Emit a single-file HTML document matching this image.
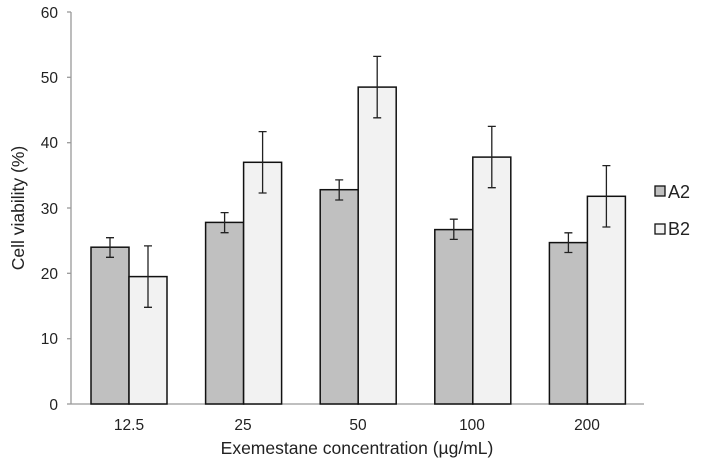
<!DOCTYPE html><html><head><style>body{margin:0;background:#fff}svg{display:block}text{font-family:"Liberation Sans",sans-serif;fill:#222}</style></head><body>
<svg width="702" height="466" xmlns="http://www.w3.org/2000/svg">
<g stroke="#999" stroke-width="1.3">
<line x1="71" y1="12" x2="71" y2="404"/><line x1="71" y1="404" x2="644" y2="404"/>
<line x1="67" y1="12" x2="71" y2="12"/><line x1="67" y1="77.3" x2="71" y2="77.3"/><line x1="67" y1="142.7" x2="71" y2="142.7"/><line x1="67" y1="208" x2="71" y2="208"/><line x1="67" y1="273.3" x2="71" y2="273.3"/><line x1="67" y1="338.7" x2="71" y2="338.7"/><line x1="67" y1="404" x2="71" y2="404"/>
</g>
<g font-size="15.5" text-anchor="end">
<text x="58" y="18">60</text><text x="58" y="83">50</text><text x="58" y="148">40</text><text x="58" y="214">30</text><text x="58" y="279">20</text><text x="58" y="344">10</text><text x="58" y="410">0</text>
</g>
<g font-size="15.5" text-anchor="middle">
<text x="129" y="430">12.5</text><text x="243" y="430">25</text><text x="358" y="430">50</text><text x="472" y="430">100</text><text x="587" y="430">200</text>
</g>
<text x="357" y="454" font-size="17.5" text-anchor="middle">Exemestane concentration (µg/mL)</text>
<text transform="translate(24,208) rotate(-90)" font-size="17.5" text-anchor="middle">Cell viability (%)</text>
<g stroke="#111" stroke-width="1.5">
<rect x="91" y="247.2" width="38" height="156.8" fill="#c0c0c0"/><rect x="129" y="276.6" width="38" height="127.4" fill="#f2f2f2"/>
<rect x="205.6" y="222.4" width="38" height="181.6" fill="#c0c0c0"/><rect x="243.6" y="162.3" width="38" height="241.7" fill="#f2f2f2"/>
<rect x="320.2" y="189.7" width="38" height="214.3" fill="#c0c0c0"/><rect x="358.2" y="87.1" width="38" height="316.9" fill="#f2f2f2"/>
<rect x="434.8" y="229.6" width="38" height="174.4" fill="#c0c0c0"/><rect x="472.8" y="157.1" width="38" height="246.9" fill="#f2f2f2"/>
<rect x="549.4" y="242.6" width="38" height="161.4" fill="#c0c0c0"/><rect x="587.4" y="196.3" width="38" height="207.7" fill="#f2f2f2"/>
</g>
<g stroke="#222" stroke-width="1.3" fill="none">
<path d="M110 237.7V257.3M106 237.7H114M106 257.3H114"/>
<path d="M148 245.9V307.3M144 245.9H152M144 307.3H152"/>
<path d="M224.6 212.6V232.7M220.6 212.6H228.6M220.6 232.7H228.6"/>
<path d="M262.6 131.6V193M258.6 131.6H266.6M258.6 193H266.6"/>
<path d="M339.2 179.9V200M335.2 179.9H343.2M335.2 200H343.2"/>
<path d="M377.2 56.4V117.8M373.2 56.4H381.2M373.2 117.8H381.2"/>
<path d="M453.8 219.2V239.4M449.8 219.2H457.8M449.8 239.4H457.8"/>
<path d="M491.8 126.4V187.7M487.8 126.4H495.8M487.8 187.7H495.8"/>
<path d="M568.4 232.8V252.5M564.4 232.8H572.4M564.4 252.5H572.4"/>
<path d="M606.4 165.6V227M602.4 165.6H610.4M602.4 227H610.4"/>
</g>
<rect x="655" y="186" width="10" height="10" fill="#c0c0c0" stroke="#111" stroke-width="1.3"/>
<rect x="655" y="224" width="10" height="10" fill="#f2f2f2" stroke="#111" stroke-width="1.3"/>
<text x="668" y="198" font-size="18">A2</text><text x="668" y="235" font-size="18">B2</text>
</svg></body></html>
